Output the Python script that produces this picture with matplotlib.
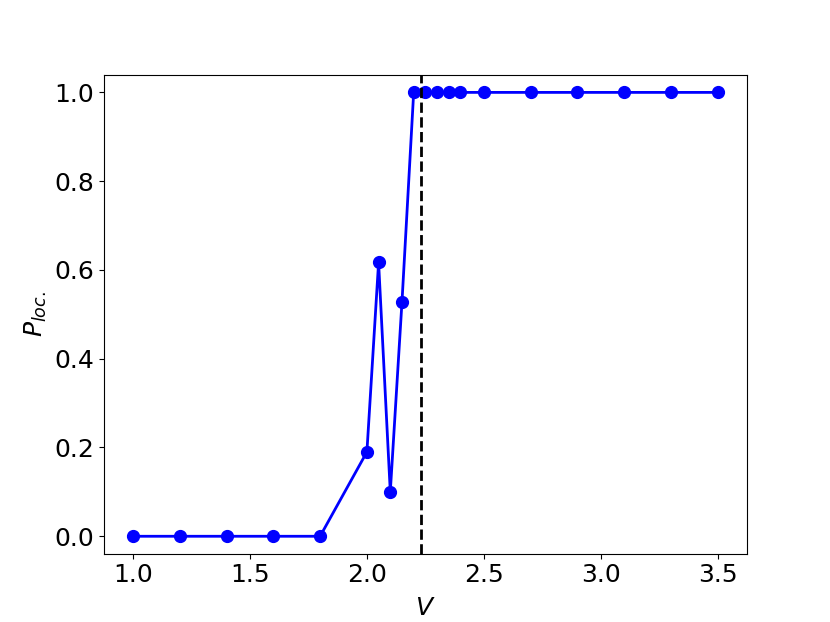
import matplotlib
matplotlib.use('Agg')
import matplotlib.pyplot as plt

V = [1.0, 1.2, 1.4, 1.6, 1.8, 2.0, 2.05, 2.1, 2.15, 2.2, 2.25, 2.3, 2.35, 2.4,
     2.5, 2.7, 2.9, 3.1, 3.3, 3.5]
P_loc = [0.0, 0.0, 0.0, 0.0, 0.0, 0.19, 0.617, 0.10, 0.528, 1.0, 1.0, 1.0, 1.0, 1.0,
         1.0, 1.0, 1.0, 1.0, 1.0, 1.0]
V_crit = 2.23

def main():
    fig, ax = plt.subplots(figsize=(8.3, 6.22), dpi=100)
    ax.plot(V, P_loc, 'o-', color='blue', lw=2, ms=8.5)
    ax.axvline(V_crit, color='black', ls='--', lw=2)
    ax.set_ylim(-0.039, 1.04)
    ax.set_xlabel('$V$', fontsize=18, labelpad=6)
    ax.set_ylabel('$P_{loc.}$', fontsize=18)
    ax.tick_params(labelsize=18)
    fig.savefig('out.png', dpi=100)

if __name__ == '__main__':
    main()
